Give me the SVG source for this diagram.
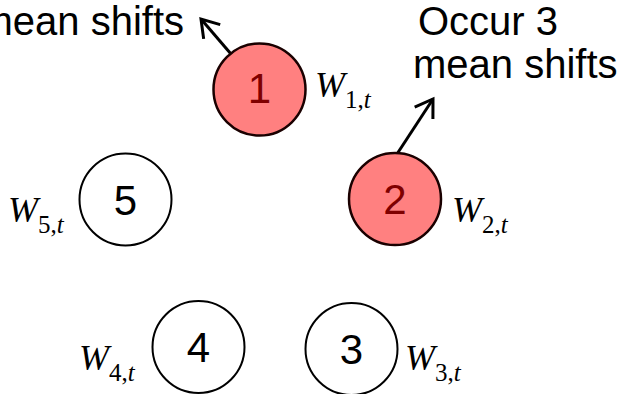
<svg xmlns="http://www.w3.org/2000/svg" width="621" height="394" viewBox="0 0 621 394">
<style>
.red{fill:#FF8080;stroke:#1a0000;stroke-width:2.5}
.white{fill:#FFFFFF;stroke:#000;stroke-width:2}
.num{font-family:"Liberation Sans",Arial,sans-serif;font-size:42px;text-anchor:middle}
.numr{fill:#7F0000}
.numb{fill:#000}
.lbl{font-family:"Liberation Sans",Arial,sans-serif;font-size:40px;fill:#000}
.w{font-family:"Liberation Serif","Times New Roman",serif;font-size:36px;font-style:italic;fill:#000}
.sub{font-size:25px;font-style:normal}
.it{font-style:italic}
.conn{stroke:#000;stroke-width:3;fill:none}
</style>
<defs>
<marker id="arr" markerUnits="userSpaceOnUse" viewBox="0 0 24 24" markerWidth="24" markerHeight="24" refX="21" refY="12" orient="auto">
<path d="M4.2,1.1 L21,12 L4.2,22.9" fill="none" stroke="#000" stroke-width="3"/>
</marker>
</defs>
<rect width="621" height="394" fill="#fff"/>
<g id="connectors">
<line class="conn" x1="231" y1="54" x2="201" y2="19" marker-end="url(#arr)"/>
<line class="conn" x1="397" y1="154" x2="433" y2="99" marker-end="url(#arr)"/>
</g>
<g id="label-left">
<text class="lbl" x="184" y="35" text-anchor="end">mean shifts</text>
</g>
<g id="label-right">
<text class="lbl" x="418" y="35">Occur 3</text>
<text class="lbl" x="413" y="78">mean shifts</text>
</g>
<g id="node1">
<circle class="red" cx="259.5" cy="89.5" r="46"/>
<text class="num numr" x="259.5" y="103">1</text>
<text class="w" x="315" y="97">W<tspan class="sub" dy="11">1,</tspan><tspan class="sub it">t</tspan></text>
</g>
<g id="node2">
<circle class="red" cx="395" cy="199" r="46"/>
<text class="num numr" x="395" y="214">2</text>
<text class="w" x="452" y="222">W<tspan class="sub" dy="11">2,</tspan><tspan class="sub it">t</tspan></text>
</g>
<g id="node3">
<circle class="white" cx="351.5" cy="349" r="46"/>
<text class="num numb" x="351.5" y="364">3</text>
<text class="w" x="405" y="370">W<tspan class="sub" dy="11">3,</tspan><tspan class="sub it">t</tspan></text>
</g>
<g id="node4">
<circle class="white" cx="198.5" cy="347" r="46"/>
<text class="num numb" x="198.5" y="362">4</text>
<text class="w" x="79" y="370">W<tspan class="sub" dy="11">4,</tspan><tspan class="sub it">t</tspan></text>
</g>
<g id="node5">
<circle class="white" cx="125.5" cy="199.5" r="46"/>
<text class="num numb" x="125.5" y="215">5</text>
<text class="w" x="8" y="222">W<tspan class="sub" dy="11">5,</tspan><tspan class="sub it">t</tspan></text>
</g>
</svg>
